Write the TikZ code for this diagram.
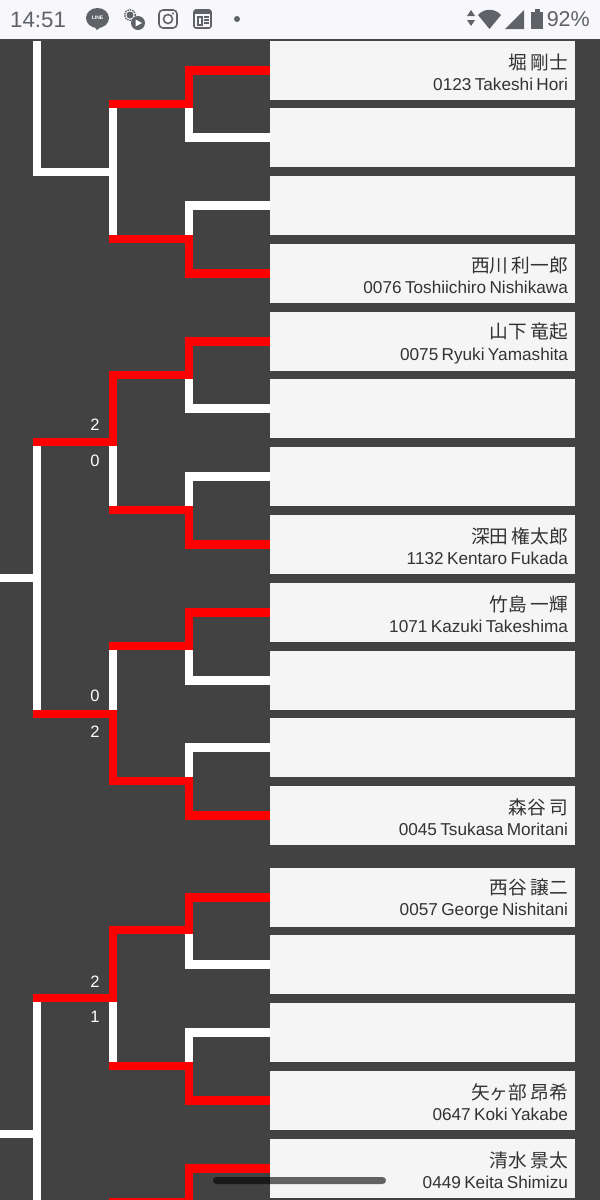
\documentclass[tikz,border=0pt]{standalone}
\usepackage{fontspec}
\setmainfont{Liberation Sans}
\newfontfamily\jpfont{Noto Sans CJK JP}
\usetikzlibrary{positioning}
\definecolor{cFundo}{HTML}{424242}
\definecolor{cCaixa}{HTML}{F5F5F5}
\definecolor{cVerm}{HTML}{FF0000}
\definecolor{cTexto}{HTML}{333333}
\definecolor{cBarra}{HTML}{F8F7FC}
\definecolor{cIcone}{HTML}{5F6368}
\newcommand{\plr}[2]{{\rule{0pt}{19pt}\jpfont\fontsize{18.7}{19}\selectfont #1}\\[6.5pt]{\fontsize{17.2}{18}\selectfont #2}}

\begin{document}
\begin{tikzpicture}[
  x=1pt,y=-1pt,
  plrbox/.style={fill=cCaixa,text=cTexto,align=right,inner xsep=7pt,inner ysep=0pt,
                 minimum height=59pt,text width=291pt},
  wl/.style={draw=white,line width=8.5pt,line cap=rect},
  rl/.style={draw=cVerm,line width=8.5pt,line cap=rect},
  score/.style={text=white,font=\fontsize{16.5}{17}\selectfont,inner sep=0pt},
  stat/.style={text=cIcone,inner sep=0pt},
  ico/.style={fill=cIcone,draw=none},
  icol/.style={draw=cIcone,line width=1.6pt}
]
\useasboundingbox (0,0) rectangle (600,1200);
\fill[cFundo] (0,0) rectangle (600,1200);

% ---- juncoes
\coordinate (a1) at (189,104);
\coordinate (a2) at (189,239);
\coordinate (a3) at (189,375);
\coordinate (a4) at (189,510);
\coordinate (a5) at (189,646);
\coordinate (a6) at (189,781);
\coordinate (a7) at (189,930);
\coordinate (a8) at (189,1066);
\coordinate (a9) at (189,1202);
\coordinate (b1) at (113,172);
\coordinate (b2) at (113,442);
\coordinate (b3) at (113,714);
\coordinate (b4) at (113,998);
\coordinate (b5) at (113,1202);
\coordinate (c1) at (37,172);
\coordinate (c2) at (37,442);
\coordinate (c3) at (37,714);
\coordinate (c4) at (37,998);
\coordinate (c5) at (37,578);
\coordinate (c6) at (37,1134);
\coordinate (c7) at (37,1210);
\coordinate (c0) at (37,30);
\coordinate (l1) at (-8,578);
\coordinate (l2) at (-8,1134);

% ---- jogadores
\node[plrbox] (p1)  at (422.5,70.5)   {\plr{堀 剛士}{0123 Takeshi Hori}};
\node[plrbox] (p2)  at (422.5,137.5)  {};
\node[plrbox] (p3)  at (422.5,205.5)  {};
\node[plrbox] (p4)  at (422.5,273.5)  {\plr{西川 利一郎}{0076 Toshiichiro Nishikawa}};
\node[plrbox] (p5)  at (422.5,341.5)  {\plr{山下 竜起}{0075 Ryuki Yamashita}};
\node[plrbox] (p6)  at (422.5,408.5)  {};
\node[plrbox] (p7)  at (422.5,476.5)  {};
\node[plrbox] (p8)  at (422.5,544.5)  {\plr{深田 権太郎}{1132 Kentaro Fukada}};
\node[plrbox] (p9)  at (422.5,612.5)  {\plr{竹島 一輝}{1071 Kazuki Takeshima}};
\node[plrbox] (p10) at (422.5,680.5)  {};
\node[plrbox] (p11) at (422.5,747.5)  {};
\node[plrbox] (p12) at (422.5,815.5)  {\plr{森谷 司}{0045 Tsukasa Moritani}};
\node[plrbox] (p13) at (422.5,897.5)  {\plr{西谷 譲二}{0057 George Nishitani}};
\node[plrbox] (p14) at (422.5,964.5)  {};
\node[plrbox] (p15) at (422.5,1032.5) {};
\node[plrbox] (p16) at (422.5,1100.5) {\plr{矢ヶ部 昂希}{0647 Koki Yakabe}};
\node[plrbox] (p17) at (422.5,1168.5) {\plr{清水 景太}{0449 Keita Shimizu}};

% ---- linhas brancas
\draw[wl] (p2.west) -| (a1);
\draw[wl] (p3.west) -| (a2);
\draw[wl] (p6.west) -| (a3);
\draw[wl] (p7.west) -| (a4);
\draw[wl] (p10.west) -| (a5);
\draw[wl] (p11.west) -| (a6);
\draw[wl] (p14.west) -| (a7);
\draw[wl] (p15.west) -| (a8);
\draw[wl] (a1 -| b1) -- (a2 -| b1);
\draw[wl] (b1) -- (c1) -- (c0);
\draw[wl] (b2) -- (a4 -| b2);
\draw[wl] (b3) -- (a5 -| b3);
\draw[wl] (b4) -- (a8 -| b4);
\draw[wl] (c2) -- (c3);
\draw[wl] (l1) -- (c5);
\draw[wl] (c4) -- (c7);
\draw[wl] (l2) -- (c6);

% ---- linhas vermelhas
\draw[rl] (p1.west) -| (a1) -- (a1 -| b1);
\draw[rl] (p4.west) -| (a2) -- (a2 -| b1);
\draw[rl] (p5.west) -| (a3) -| (b2) -- (c2);
\draw[rl] (p8.west) -| (a4) -- (a4 -| b2);
\draw[rl] (p9.west) -| (a5) -- (a5 -| b3);
\draw[rl] (p12.west) -| (a6) -| (b3) -- (c3);
\draw[rl] (p13.west) -| (a7) -| (b4) -- (c4);
\draw[rl] (p16.west) -| (a8) -- (a8 -| b4);
\draw[rl] (p17.west) -| (a9) -- (b5);

% ---- caixas por cima das pontas
\foreach \n in {p1,p2,p3,p4,p5,p6,p7,p8,p9,p10,p11,p12,p13,p14,p15,p16,p17}
  \fill[cCaixa] (\n.north west) rectangle ++(4.5,59);

% ---- placares
\node[score] (s1) at (95,424.7)  {2};
\node[score] (s2) at (95,460.7)  {0};
\node[score] (s3) at (95,695.7)  {0};
\node[score] (s4) at (95,731.7)  {2};
\node[score] (s5) at (95,981.7)  {2};
\node[score] (s6) at (95,1016.7) {1};

% ---- barra de status
\fill[cBarra] (0,0) rectangle (600,39);
\fill[cIcone!70!black] (0,39) rectangle (600,40.5);
\node[stat,anchor=west,font=\fontsize{22.3}{23}\selectfont] (hora) at (10,19.5) {14:51};
\node[stat,anchor=east,font=\fontsize{21.5}{22}\selectfont] (pct) at (590,19.5) {92\%};
% line
\fill[ico] (97.5,18) ellipse (11.5 and 10);
\fill[ico] (94,26) -- (102,26) -- (97,30) -- cycle;
\node[font=\fontsize{5}{5}\selectfont\bfseries,text=white,inner sep=0pt] (lineico) at (97.5,18) {LINE};
% engrenagem e play
\draw[icol,dash pattern=on 1.5pt off 1pt,line width=1.4pt] (130,15) circle (5.5);
\fill[ico] (130,15) circle (3.5);
\fill[ico] (138,23) circle (7);
\fill[white] (135.5,19.5) -- (142,23) -- (135.5,26.5) -- cycle;
% instagram
\draw[icol,rounded corners=4pt] (159,10) rectangle (177,28);
\draw[icol] (168,19) circle (4.5);
\fill[ico] (173,13.5) circle (1.1);
% jornal
\draw[icol,rounded corners=2pt] (194,10) rectangle (211,28);
\fill[ico] (194,10) rectangle (211,14);
\draw[icol,line width=1.1pt] (198,17) rectangle (202,25);
\draw[icol,line width=1.1pt] (204,17) -- (209,17) (204,20) -- (209,20) (204,23) -- (209,23);
\fill[ico] (237,19) circle (3);
% direita
\fill[ico] (471,10) -- (475,16) -- (467,16) -- cycle;
\fill[ico] (471,26) -- (475,20) -- (467,20) -- cycle;
\fill[ico] (478,15) .. controls (484,8) and (495,8) .. (501,15) -- (489.5,29) -- cycle;
\fill[ico] (524,10) -- (524,29) -- (505,29) -- cycle;
\fill[ico] (531,11.5) rectangle (543,29);
\fill[ico] (534.5,9) rectangle (539.5,12);

% ---- barra de navegacao
\fill[black,opacity=0.6,rounded corners=3.5pt] (213,1177) rectangle (386,1184);
\end{tikzpicture}
\end{document}
